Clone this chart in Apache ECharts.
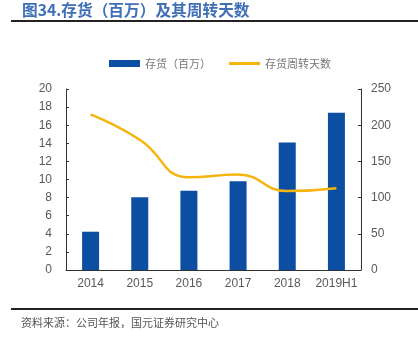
<!DOCTYPE html>
<html><head><meta charset="utf-8">
<script src="https://cdn.jsdelivr.net/npm/echarts@6/dist/echarts.min.js"></script>
<style>html,body{margin:0;padding:0;background:#fff}#c{width:418px;height:338px}</style>
</head><body><div id="c"></div>
<script>
const categories = ['2014','2015','2016','2017','2018','2019H1'];
const inventory = [4.23, 8.03, 8.76, 9.80, 14.1, 17.38];
const turnoverDays = [215, 180, 128, 132, 109, 113];
const leftTicks = [0, 20, 2];
const rightTicks = [0, 250, 50];

const chart = echarts.init(document.getElementById('c'), null, {renderer:'canvas'});
const axisTxt = {color:'#595959', fontSize:12, fontFamily:'Liberation Sans, Arial, sans-serif'};
chart.setOption({
  animation:false,
  graphic:[
    {type:'text', x:22, y:2, style:{text:'图34.存货（百万）及其周转天数', textAlign:'left', textVerticalAlign:'top', fill:'#3f6fb6', font:'bold 15.7px "Noto Sans CJK SC", sans-serif'}},
    {type:'rect', shape:{x:11, y:20, width:407, height:2}, style:{fill:'#222'}},
    {type:'rect', shape:{x:11, y:308, width:407, height:2}, style:{fill:'#222'}},
    {type:'text', x:21, y:317, style:{text:'资料来源：公司年报，国元证券研究中心', fill:'#555', font:'11px "Noto Sans CJK SC", sans-serif'}}
  ],
  legend:{
    top:53, left:104, itemGap:18, itemWidth:31, itemHeight:7,
    textStyle:{color:'#777', fontSize:11, fontFamily:'"Noto Sans CJK SC", sans-serif'},
    data:[{name:'存货（百万）', icon:'rect'}, {name:'存货周转天数', icon:'path://M0,0H10V1H0Z'}]
  },
  grid:{left:66, right:57, top:89, bottom:68},
  xAxis:{type:'category', data:categories,
    axisLine:{lineStyle:{color:'#333'}},
    axisTick:{inside:true, length:3, lineStyle:{color:'#333'}},
    axisLabel:Object.assign({margin:8, interval:0}, axisTxt)},
  yAxis:[
    {type:'value', min:leftTicks[0], max:leftTicks[1], interval:leftTicks[2],
     splitLine:{show:false},
     axisLine:{show:true, lineStyle:{color:'#333'}},
     axisTick:{show:true, inside:true, length:3, lineStyle:{color:'#333'}},
     axisLabel:Object.assign({margin:14}, axisTxt)},
    {type:'value', min:rightTicks[0], max:rightTicks[1], interval:rightTicks[2],
     splitLine:{show:false},
     axisLine:{show:true, lineStyle:{color:'#333'}},
     axisTick:{show:true, inside:true, length:3, lineStyle:{color:'#333'}},
     axisLabel:Object.assign({margin:10}, axisTxt)}
  ],
  series:[
    {name:'存货（百万）', type:'bar', data:inventory, barWidth:17,
     itemStyle:{color:'#0b4ea2'}},
    {name:'存货周转天数', type:'line', yAxisIndex:1, data:turnoverDays, smooth:true,
     symbol:'none', lineStyle:{color:'#f6b40e', width:2.5}, itemStyle:{color:'#f6b40e'}}
  ]
});
</script></body></html>
